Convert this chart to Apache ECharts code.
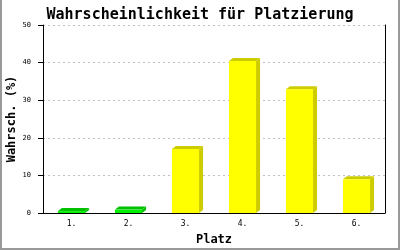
<!DOCTYPE html>
<html><head><meta charset="utf-8">
<script src="https://cdn.jsdelivr.net/npm/echarts@6/dist/echarts.min.js"></script>
<style>
html,body{margin:0;padding:0;background:#fff;}
#c{width:400px;height:250px;box-sizing:border-box;border-left:2px solid #999;border-right:2px solid #999;border-bottom:2px solid #999;}
</style></head>
<body><div id="c"></div>
<script>
const categories = ['1.', '2.', '3.', '4.', '5.', '6.'];
const values = [0.5, 0.9, 17.0, 40.4, 32.9, 9.0];
const frontColors = ['#00ee00', '#00ee00', '#ffff00', '#ffff00', '#ffff00', '#ffff00'];
const sideColors = ['#00c000', '#00c000', '#cccc00', '#cccc00', '#cccc00', '#cccc00'];
const yTicks = [0, 10, 20, 30, 40, 50];

const font = 'DejaVu Sans Mono';
const chart = echarts.init(document.getElementById('c'), null, {renderer: 'canvas'});
chart.setOption({
  animation: false,
  title: {
    text: 'Wahrscheinlichkeit für Platzierung',
    left: 'center', top: 3,
    textStyle: {fontFamily: font, fontWeight: 'bold', fontSize: 15, color: '#000'}
  },
  grid: {left: 41, right: 13, top: 25, bottom: 35, outerBoundsMode: 'none', containLabel: false},
  xAxis: {
    type: 'category', data: categories,
    name: 'Platz', nameLocation: 'middle', nameGap: 21,
    nameTextStyle: {fontFamily: font, fontWeight: 'bold', fontSize: 12, color: '#000'},
    axisLine: {lineStyle: {color: '#000', width: 1}},
    axisTick: {show: false},
    axisLabel: {fontFamily: font, fontSize: 8, color: '#000', margin: 7}
  },
  yAxis: [{
    type: 'value', min: yTicks[0], max: yTicks[yTicks.length - 1], interval: 10,
    name: 'Wahrsch. (%)', nameLocation: 'middle', nameGap: 25, nameRotate: 90,
    nameMoveOverlap: false,
    nameTextStyle: {fontFamily: font, fontWeight: 'bold', fontSize: 12, color: '#000'},
    axisLine: {show: true, lineStyle: {color: '#000'}},
    axisTick: {show: true, length: 5, lineStyle: {color: '#000'}},
    axisLabel: {fontFamily: font, fontSize: 7, color: '#000', margin: 12},
    splitLine: {show: true, lineStyle: {color: '#c0c0c0', type: [2, 3]}}
  }, {
    type: 'value', min: yTicks[0], max: yTicks[yTicks.length - 1], interval: 10,
    position: 'right',
    axisLine: {show: true, lineStyle: {color: '#000'}},
    axisTick: {show: false}, axisLabel: {show: false}, splitLine: {show: false}
  }],
  series: [{
    type: 'custom',
    data: values.map((v, i) => [i, v]),
    renderItem: function (params, api) {
      const i = api.value(0), v = api.value(1);
      const p0 = api.coord([i, 0]);
      const p1 = api.coord([i, v]);
      const w = api.size([1, 0])[0] * 0.475;
      const x1 = p0[0] - w / 2, x2 = p0[0] + w / 2;
      const y0 = p0[1], y1 = p1[1];
      const dx = 4, dy = 3;
      return {
        type: 'group',
        children: [
          {type: 'polygon', shape: {points: [[x2, y1], [x2 + dx, y1 - dy], [x2 + dx, y0 - dy], [x2, y0]]},
            style: {fill: sideColors[i]}},
          {type: 'polygon', shape: {points: [[x1, y1], [x1 + dx, y1 - dy], [x2 + dx, y1 - dy], [x2, y1]]},
            style: {fill: sideColors[i]}},
          {type: 'rect', shape: {x: x1, y: y1, width: w, height: y0 - y1},
            style: {fill: frontColors[i]}}
        ]
      };
    }
  }]
});
</script></body></html>
